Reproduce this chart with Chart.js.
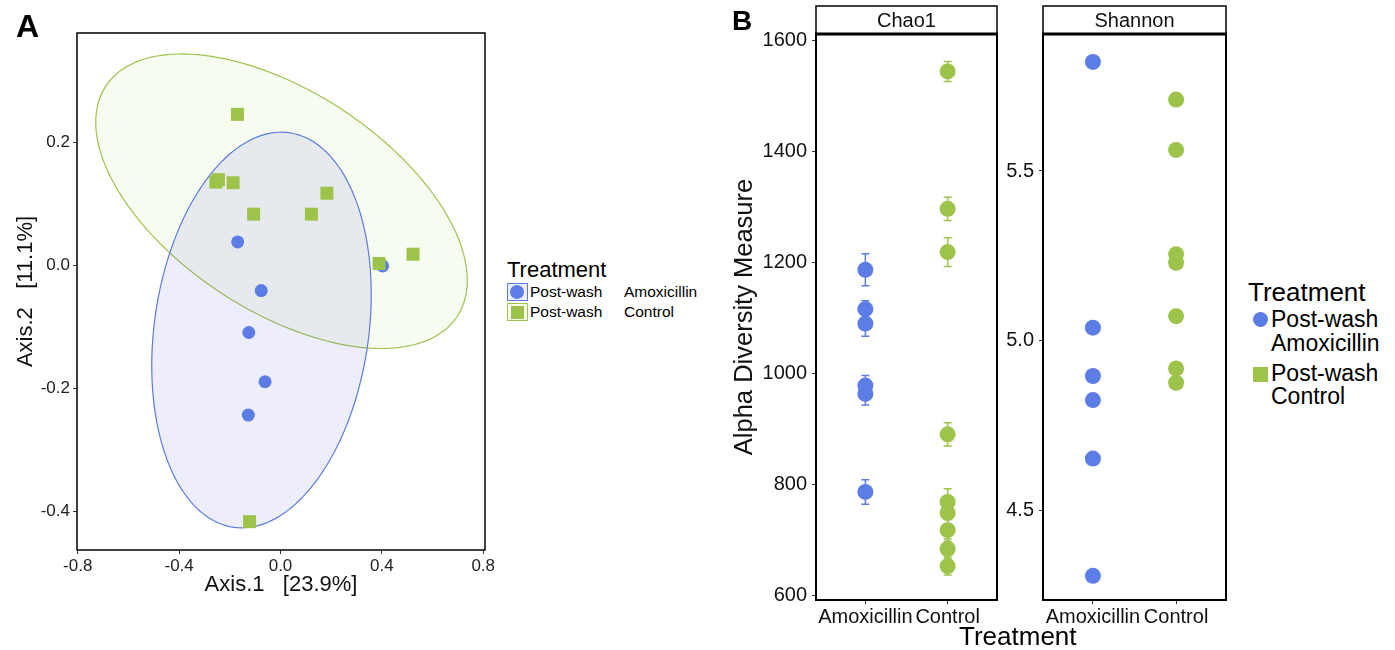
<!DOCTYPE html>
<html>
<head>
<meta charset="utf-8">
<script src="https://cdn.jsdelivr.net/npm/chart.js@4.4.0/dist/chart.umd.min.js"></script>
<style>
body { margin: 0; background: #fff; font-family: 'Liberation Sans', Arial, sans-serif; color: #000; }
#wrap { position: relative; width: 1395px; height: 650px; overflow: hidden; }
canvas { position: absolute; }
.txt { position: absolute; white-space: pre; line-height: 1; }
.key { position: absolute; box-sizing: border-box; }
</style>
</head>
<body>
<div id="wrap">
  <canvas id="pcoa" width="500" height="600" style="left:0;top:0"></canvas>
  <canvas id="chao" width="275" height="650" style="left:730px;top:0"></canvas>
  <canvas id="shannon" width="233" height="650" style="left:1003px;top:0"></canvas>

  <div class="txt" style="left:16px;top:10px;font-size:32px;font-weight:bold">A</div>
  <div class="txt" style="left:732px;top:7px;font-size:28px;font-weight:bold">B</div>

  <!-- legend A -->
  <div class="txt" style="left:507px;top:259px;font-size:22px">Treatment</div>
  <div class="key" style="left:507px;top:283px;width:21px;height:18px;border:1px solid #5b7be0;background:#eeeefb"></div>
  <div class="key" style="left:510px;top:285px;width:14px;height:14px;border-radius:50%;background:#5d7de6"></div>
  <div class="txt" style="left:530px;top:284px;font-size:15.5px">Post-wash</div>
  <div class="txt" style="left:624px;top:284px;font-size:15.5px">Amoxicillin</div>
  <div class="key" style="left:507px;top:303px;width:21px;height:18px;border:1px solid #9dc34b;background:#f6fcee"></div>
  <div class="key" style="left:511px;top:306px;width:13px;height:13px;background:#9dc34b"></div>
  <div class="txt" style="left:530px;top:304px;font-size:15.5px">Post-wash</div>
  <div class="txt" style="left:624px;top:304px;font-size:15.5px">Control</div>

  <!-- legend B -->
  <div class="txt" style="left:1248px;top:279px;font-size:26px">Treatment</div>
  <div class="key" style="left:1253px;top:312px;width:15px;height:15px;border-radius:50%;background:#5d7de6"></div>
  <div class="txt" style="left:1271px;top:308px;font-size:23px">Post-wash</div>
  <div class="txt" style="left:1271px;top:332px;font-size:23px">Amoxicillin</div>
  <div class="key" style="left:1253px;top:367px;width:15px;height:15px;background:#9dc34b"></div>
  <div class="txt" style="left:1271px;top:362px;font-size:23px">Post-wash</div>
  <div class="txt" style="left:1271px;top:385px;font-size:23px">Control</div>

  <div class="txt" style="left:959px;top:623px;font-size:26px">Treatment</div>
</div>
<script>
Chart.defaults.font.family = "'Liberation Sans', Arial, sans-serif";
Chart.defaults.color = '#111';

var blue = '#5d7de6';
var green = '#9dc34b';

// PCoA ordination (panel A)
var pcoaAmoxX = [-0.169, -0.076, 0.403, -0.125, -0.061, -0.127];
var pcoaAmoxY = [0.038, -0.041, -0.001, -0.109, -0.189, -0.243];
var pcoaCtrlX = [-0.170, -0.255, -0.245, -0.187, -0.106, 0.122, 0.183, 0.389, 0.523, -0.122];
var pcoaCtrlY = [0.245, 0.135, 0.139, 0.134, 0.083, 0.083, 0.117, 0.003, 0.018, -0.416];
var pcoaXTicks = [-0.8, -0.4, 0.0, 0.4, 0.8];
var pcoaYTicks = [-0.4, -0.2, 0.0, 0.2];
// ellipse: centre x, centre y, half-width, half-height, phase
var ellipseAmox = [-0.075, -0.105, 0.433, 0.321, 1.390];
var ellipseCtrl = [0.004, 0.104, 0.733, 0.239, 2.138];

// alpha diversity (panel B)
var treatments = ['Amoxicillin', 'Control'];
var chaoAmox = [1187, 1116, 1090, 978, 963, 786];
var chaoAmoxErr = [29, 15, 23, 18, 20, 22];
var chaoCtrl = [1545, 1297, 1219, 890, 768, 748, 717, 683, 652];
var chaoCtrlErr = [18, 21, 26, 21, 24, 20, 20, 18, 16];
var chaoTicks = [600, 800, 1000, 1200, 1400, 1600];
var shannonAmox = [5.821, 5.039, 4.897, 4.826, 4.654, 4.309];
var shannonCtrl = [5.710, 5.562, 5.255, 5.230, 5.073, 4.919, 4.877];
var shannonTicks = [4.5, 5.0, 5.5];

function pts(xs, ys) {
    return xs.map(function (x, i) { return { x: x, y: ys[i] }; });
}
function atCat(cat, ys, errs) {
    return ys.map(function (y, i) { return { x: cat, y: y, err: errs ? errs[i] : 0 }; });
}

// draws the whole plot border
var boxPlugin = {
    id: 'box',
    afterDraw: function (chart, args, opts) {
        var a = chart.chartArea, ctx = chart.ctx;
        ctx.save();
        ctx.strokeStyle = '#000';
        ctx.lineWidth = opts.width || 1.5;
        ctx.strokeRect(a.left, a.top, a.right - a.left, a.bottom - a.top);
        ctx.restore();
    }
};

// confidence ellipses in data space
var ellipsePlugin = {
    id: 'ellipses',
    beforeDatasetsDraw: function (chart, args, opts) {
        var ctx = chart.ctx, sx = chart.scales.x, sy = chart.scales.y;
        opts.items.forEach(function (it) {
            var e = it.e;
            ctx.save();
            ctx.beginPath();
            for (var k = 0; k <= 200; k++) {
                var t = k / 200 * Math.PI * 2;
                var px = sx.getPixelForValue(e[0] + e[2] * Math.cos(t));
                var py = sy.getPixelForValue(e[1] + e[3] * Math.cos(t - e[4]));
                if (k === 0) ctx.moveTo(px, py); else ctx.lineTo(px, py);
            }
            ctx.closePath();
            ctx.fillStyle = it.fill;
            ctx.fill();
            ctx.strokeStyle = it.line;
            ctx.lineWidth = 1.2;
            ctx.stroke();
            ctx.restore();
        });
    }
};

// facet strip above the panel
var stripPlugin = {
    id: 'strip',
    afterDraw: function (chart, args, opts) {
        var a = chart.chartArea, ctx = chart.ctx;
        ctx.save();
        ctx.fillStyle = '#fff';
        ctx.fillRect(a.left, 6, a.right - a.left, a.top - 6);
        ctx.strokeStyle = '#000';
        ctx.lineWidth = 1.5;
        ctx.strokeRect(a.left, 6, a.right - a.left, a.top - 6);
        ctx.lineWidth = 3;
        ctx.beginPath();
        ctx.moveTo(a.left - 1, a.top);
        ctx.lineTo(a.right + 1, a.top);
        ctx.stroke();
        ctx.fillStyle = '#111';
        ctx.font = "20px 'Liberation Sans', Arial, sans-serif";
        ctx.textAlign = 'center';
        ctx.textBaseline = 'middle';
        ctx.fillText(opts.text, (a.left + a.right) / 2, (a.top + 6) / 2 + 1);
        ctx.restore();
    }
};

// error bars from the raw err field
var errorPlugin = {
    id: 'errbars',
    beforeDatasetsDraw: function (chart) {
        var ctx = chart.ctx, sx = chart.scales.x, sy = chart.scales.y;
        chart.data.datasets.forEach(function (ds) {
            ctx.save();
            ctx.strokeStyle = ds.backgroundColor;
            ctx.lineWidth = 1.5;
            ds.data.forEach(function (d) {
                if (!d.err) return;
                var x = sx.getPixelForValue(d.x);
                var y1 = sy.getPixelForValue(d.y + d.err);
                var y2 = sy.getPixelForValue(d.y - d.err);
                ctx.beginPath();
                ctx.moveTo(x, y1); ctx.lineTo(x, y2);
                ctx.moveTo(x - 4, y1); ctx.lineTo(x + 4, y1);
                ctx.moveTo(x - 4, y2); ctx.lineTo(x + 4, y2);
                ctx.stroke();
            });
            ctx.restore();
        });
    }
};

function tickGrid() {
    return { display: true, drawOnChartArea: false, drawTicks: true, tickLength: 4, color: '#333', lineWidth: 1 };
}

new Chart('pcoa', {
    type: 'scatter',
    data: {
        datasets: [{
            data: pts(pcoaAmoxX, pcoaAmoxY),
            backgroundColor: blue, borderWidth: 0,
            pointStyle: 'circle', pointRadius: 6.5, order: 1
        }, {
            data: pts(pcoaCtrlX, pcoaCtrlY),
            backgroundColor: green, borderWidth: 0,
            pointStyle: 'rect', pointRadius: 9.2, order: 0
        }]
    },
    options: {
        responsive: false,
        animation: false,
        layout: { padding: { top: 33, right: 15, left: 0, bottom: 0 } },
        plugins: {
            legend: { display: false },
            tooltip: { enabled: false },
            box: { width: 1.5 },
            ellipses: {
                items: [
                    { e: ellipseCtrl, fill: 'rgba(150,220,60,0.08)', line: green },
                    { e: ellipseAmox, fill: 'rgba(110,110,230,0.12)', line: '#5b7be0' }
                ]
            }
        },
        scales: {
            x: {
                type: 'linear', min: -0.803, max: 0.807,
                afterBuildTicks: function (s) { s.ticks = pcoaXTicks.map(function (v) { return { value: v }; }); },
                afterFit: function (s) { s.height = 50; },
                ticks: { font: { size: 17 }, color: '#222', padding: 2, maxRotation: 0,
                    callback: function (v) { return v.toFixed(1); } },
                grid: tickGrid(),
                border: { display: false },
                title: { display: true, text: 'Axis.1   [23.9%]', font: { size: 22 }, color: '#111', padding: { top: 0, bottom: 2 } }
            },
            y: {
                type: 'linear', min: -0.462, max: 0.377,
                afterBuildTicks: function (s) { s.ticks = pcoaYTicks.map(function (v) { return { value: v }; }); },
                afterFit: function (s) { s.width = 77; },
                ticks: { font: { size: 17 }, color: '#222', padding: 3,
                    callback: function (v) { return v.toFixed(1); } },
                grid: tickGrid(),
                border: { display: false },
                title: { display: true, text: 'Axis.2   [11.1%]', font: { size: 22 }, color: '#111', padding: { top: 13, bottom: 0 } }
            }
        }
    },
    plugins: [ellipsePlugin, boxPlugin]
});

function alphaChart(id, amox, amoxErr, ctrl, ctrlErr, ticks, yMin, yMax, yWidth, padRight, strip, yTitle, fmt) {
    return new Chart(id, {
        type: 'scatter',
        data: {
            datasets: [{
                data: atCat(1, amox, amoxErr),
                backgroundColor: blue, borderWidth: 0, pointRadius: 8
            }, {
                data: atCat(2, ctrl, ctrlErr),
                backgroundColor: green, borderWidth: 0, pointRadius: 8
            }]
        },
        options: {
            responsive: false,
            animation: false,
            layout: { padding: { top: 34, right: padRight, left: 0, bottom: 0 } },
            plugins: {
                legend: { display: false },
                tooltip: { enabled: false },
                box: { width: 2 },
                strip: { text: strip }
            },
            scales: {
                x: {
                    type: 'linear', min: 0.4, max: 2.6,
                    afterBuildTicks: function (s) { s.ticks = [{ value: 1 }, { value: 2 }]; },
                    afterFit: function (s) { s.height = 50; },
                    ticks: { font: { size: 20 }, color: '#111', padding: 1, maxRotation: 0,
                        callback: function (v) { return treatments[Math.round(v) - 1]; } },
                    grid: tickGrid(),
                    border: { display: false }
                },
                y: {
                    type: 'linear', min: yMin, max: yMax,
                    afterBuildTicks: function (s) { s.ticks = ticks.map(function (v) { return { value: v }; }); },
                    afterFit: function (s) { s.width = yWidth; },
                    ticks: { font: { size: 20 }, color: '#111', padding: 5, callback: fmt },
                    grid: tickGrid(),
                    border: { display: false },
                    title: { display: !!yTitle, text: yTitle || '', font: { size: 25.5 }, color: '#111', padding: { top: 0, bottom: 0 } }
                }
            }
        },
        plugins: [errorPlugin, boxPlugin, stripPlugin]
    });
}

alphaChart('chao', chaoAmox, chaoAmoxErr, chaoCtrl, chaoCtrlErr, chaoTicks, 591, 1612.6, 86, 6,
    'Chao1', 'Alpha Diversity Measure', function (v) { return String(v); });
alphaChart('shannon', shannonAmox, null, shannonCtrl, null, shannonTicks, 4.238, 5.903, 40, 10,
    'Shannon', null, function (v) { return v.toFixed(1); });
</script>
</body>
</html>
